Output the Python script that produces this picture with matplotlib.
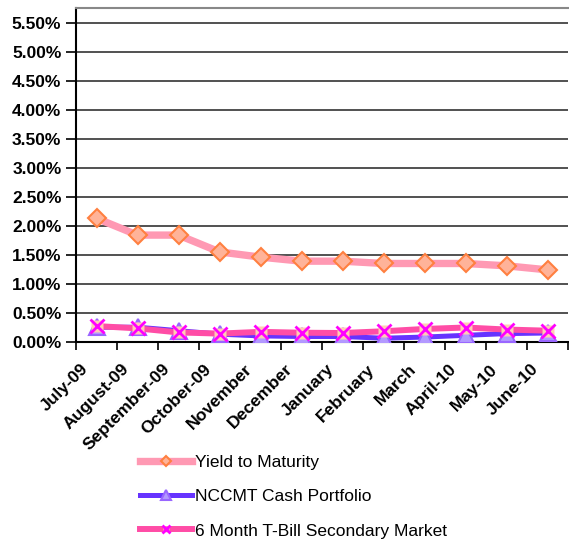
import numpy as np
import matplotlib.pyplot as plt
import matplotlib.transforms as mtransforms
from matplotlib.ticker import FuncFormatter

plt.rcParams['font.family'] = ['Liberation Sans', 'DejaVu Sans']

months = ['July-09', 'August-09', 'September-09', 'October-09', 'November',
          'December', 'January', 'February', 'March', 'April-10', 'May-10', 'June-10']
ytm = [2.13, 1.84, 1.84, 1.55, 1.46, 1.39, 1.39, 1.35, 1.35, 1.35, 1.31, 1.24]
ncc = [0.25, 0.25, 0.19, 0.13, 0.10, 0.09, 0.09, 0.06, 0.08, 0.11, 0.14, 0.15]
tbill = [0.27, 0.23, 0.16, 0.14, 0.17, 0.155, 0.15, 0.18, 0.22, 0.245, 0.21, 0.19]
y_ticks = np.arange(0, 5.51, 0.5)

fig = plt.figure(figsize=(5.69, 5.40), dpi=100)
ax = fig.add_axes([76/569, 1 - 341.7/540, 492/569, 333.7/540])
x = np.arange(len(months))

l1, = ax.plot(x, ytm, color='#FF99B3', lw=5.3, marker='D', ms=9.5,
              mfc='#FFB399', mec='#FF8040', mew=1.5, zorder=5)
l2, = ax.plot(x, ncc, color='#6633FF', lw=3.6, marker='^', ms=12,
              mfc='#B399FF', mec='#9966FF', mew=1.5, zorder=3)
l3, = ax.plot(x, tbill, color='#FF4DA6', lw=4.3, marker='s', ms=9,
              mfc='#FFCCB3', mec='none', zorder=4)
l3x, = ax.plot(x, tbill, ls='none', marker='x', ms=10, mec='#FF00FF', mew=2, zorder=4)

ax.set_xlim(-0.5, len(months) - 0.5)
ax.set_ylim(0, 5.76)
ax.set_yticks(y_ticks)
ax.yaxis.set_major_formatter(FuncFormatter(lambda v, p: f'{v:.2f}%'))
ax.grid(axis='y', color='#222222', lw=1.1)
ax.set_axisbelow(True)

# tick marks sit on the category boundaries; labels are placed by hand below
ax.set_xticks(np.arange(-0.5, len(months)))
ax.set_xticklabels([])
ax.tick_params(axis='x', length=6, width=1.2, color='black')
label_tr = ax.get_xaxis_transform() + mtransforms.ScaledTranslation(-0.11, -0.25, fig.dpi_scale_trans)
for i, m in enumerate(months):
    ax.text(i, 0, m, transform=label_tr, rotation=45, rotation_mode='anchor',
            ha='right', va='center', fontsize=12.5, fontweight='bold')

ax.tick_params(axis='y', length=7, width=1.2, labelsize=12.5)
for t in ax.get_yticklabels():
    t.set_fontweight('bold')

ax.spines['right'].set_visible(False)
ax.spines['top'].set_color('#888888')
ax.spines['top'].set_linewidth(1.5)
ax.spines['left'].set_linewidth(1.5)
ax.spines['bottom'].set_linewidth(1.5)

fig.legend([l1, l2, (l3, l3x)],
           ['Yield to Maturity', 'NCCMT Cash Portfolio', '6 Month T-Bill Secondary Market'],
           loc='center left', bbox_to_anchor=(140/569, 1 - 496.7/540),
           frameon=False, fontsize=12.5, handlelength=3.0, handletextpad=0.15,
           labelspacing=1.1, borderpad=0, borderaxespad=0, markerscale=0.55)

fig.savefig('out.png', dpi=100)
